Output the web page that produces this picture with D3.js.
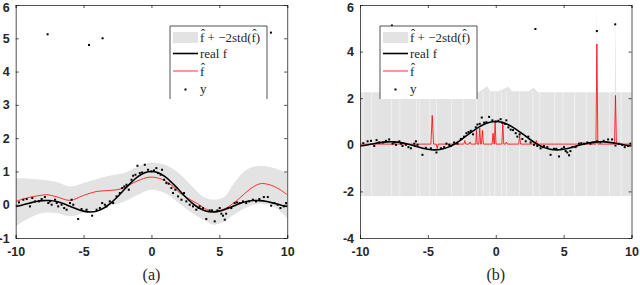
<!DOCTYPE html>
<html>
<head>
<meta charset="utf-8">
<script src="https://d3js.org/d3.v7.min.js"></script>
<style>
  body { margin: 0; background: #fff; }
  .tick text { font-family: "Liberation Sans", Arial, sans-serif; font-weight: bold; font-size: 12.5px; fill: #262626; }
  .leg text, .caption { font-family: "Liberation Serif", "Times New Roman", serif; fill: #262626; }
</style>
</head>
<body>
<div id="chart"></div>
<script>
// real f, sampled every 0.5
var realX = d3.range(-10, 10.01, 0.5);
var realY = [-0.054, -0.008, 0.046, 0.094, 0.124, 0.125, 0.094, 0.033, -0.047, -0.128, -0.192,
             -0.217, -0.189, -0.100, 0.047, 0.239, 0.455, 0.665, 0.841, 0.959, 1.0,
             0.959, 0.841, 0.665, 0.455, 0.239, 0.047, -0.100, -0.189, -0.217, -0.192,
             -0.128, -0.047, 0.033, 0.094, 0.125, 0.124, 0.094, 0.046, -0.008, -0.054];

// observations y
var obsX = [-9.76, -9.44, -9.19, -8.95, -8.78, -8.58, -8.29, -8.09, -7.85, -7.6, -7.48, -7.35, -7.1, -6.98,
            -6.87, -6.62, -6.43, -6.25, -6.0, -5.88, -5.76, -5.4, -5.15, -4.78, -4.37, -4.04, -3.8, -3.63,
            -3.43, -3.31, -3.07, -2.82, -2.57, -2.33, -2.16, -2.0, -1.84, -1.67, -1.47, -1.35, -1.18, -1.03,
            -0.86, -0.69, -0.49, -0.25, 0.0, 0.19, 0.36, 0.48, 0.68, 0.78, 0.93, 1.1, 1.27, 1.47, 1.59,
            1.76, 1.96, 2.21, 2.4, 2.57, 2.82, 3.06, 3.3, 3.47, 3.55, 3.8, 4.04, 4.29, 4.46, 4.66, 4.86,
            5.03, 5.15, 5.27, 5.4, 5.5, 5.64, 5.88, 6.13, 6.3, 6.5, 6.74, 6.98, 7.2, 7.47, 7.7, 7.95, 8.28,
            8.57, 8.82, 9.06, 9.3, 9.5, 9.75, 9.92,
            -7.65, -4.6, -3.6, 2.92, 7.45, 8.8];
var obsY = [0.07, 0.15, 0.17, -0.05, 0.2, 0.1, 0.1, 0.17, 0.23, 0.05, 0.1, 0.0, 0.15, 0.05,
            -0.05, 0.0, -0.1, -0.15, 0.05, 0.15, 0.0, -0.43, -0.13, -0.15, -0.33, -0.15, -0.1, 0.05,
            0.0, -0.05, 0.1, 0.05, 0.25, 0.35, 0.5, 0.55, 0.6, 0.45, 0.75, 0.87, 0.9, 1.17,
            0.95, 0.97, 1.2, 1.05, 1.0, 1.03, 1.1, 0.95, 0.9, 1.05, 0.75, 0.65, 0.63, 0.5, 0.35,
            0.45, 0.25, 0.15, 0.35, 0.1, 0.0, -0.05, -0.15, -0.1, -0.05, -0.1, -0.43, -0.17, -0.17, -0.5, -0.17,
            -0.1, -0.27, -0.33, -0.45, -0.27, -0.1, -0.1, 0.05, 0.07, 0.05, 0.1, 0.05, 0.1, 0.15, 0.1, 0.17, 0.23,
            0.23, -0.03, 0.05, 0.0, -0.1, -0.05, 0.05,
            5.12, 4.8, 5.0, 4.97, 4.88, 5.17];

// (a) estimate and its band
var aX = [-10, -9, -8, -7.7, -7, -6, -5, -4, -3, -2.3, -1.6, -1, -0.1, 0.8, 1.5, 2.1, 3.3, 4.5, 5.5, 6.5, 7.2, 8, 8.7, 9.4, 10];
var aFhat = [0.1, 0.22, 0.29, 0.3, 0.24, 0.13, 0.28, 0.4, 0.43, 0.47, 0.6, 0.72, 0.83, 0.76, 0.58, 0.35, 0.05, -0.2, -0.1, 0.2, 0.45, 0.63, 0.6, 0.47, 0.3];
var aBandX = [-10, -9, -8, -7, -6, -5, -4, -3, -2, -1, 0, 1, 2, 3, 3.8, 4.6, 5.4, 6, 7, 8, 9, 10];
var aUpper = [0.8, 0.78, 0.75, 0.68, 0.55, 0.65, 0.78, 0.88, 0.95, 1.15, 1.27, 1.2, 0.95, 0.55, 0.25, 0.15, 0.25, 0.6, 1.05, 1.17, 1.1, 0.95];
var aLower = [-0.65, -0.4, -0.25, -0.25, -0.35, -0.25, -0.12, -0.02, 0.1, 0.3, 0.45, 0.35, 0.05, -0.25, -0.45, -0.6, -0.5, -0.32, -0.08, 0.03, -0.05, -0.4];

// (b) estimate: flat with spikes
var bX = [-10, -4.78, -4.68, -4.58, -4.38, -4.31, -4.24, -2.35, -2.28, -2.21, -1.97, -1.9, -1.83,
          -1.47, -1.42, -1.37, -1.25, -1.18, -1.11, -1.05, -0.98, -0.91, -0.27, -0.2, -0.13, -0.1, -0.05, 0.02,
          0.45, 0.52, 0.59, 0.72, 0.79, 0.86, 1.69, 1.76, 1.83, 2.92, 2.99, 3.06,
          7.38, 7.45, 7.52, 8.75, 8.82, 8.89, 10];
var bFhat = [0.03, 0.03, 1.26, 0.03, 0.03, -0.17, 0.03, 0.03, 0.18, 0.03, 0.03, 0.12, 0.03,
             0.03, 0.64, 0.03, 0.03, 0.72, 0.03, 0.03, 0.62, 0.03, 0.03, 0.5, 0.03, 0.03, 0.97, 0.03,
             0.03, 0.97, 0.03, 0.03, 0.12, 0.03, 0.03, 0.4, 0.03, 0.03, 0.18, 0.03,
             0.03, 4.33, 0.03, 0.03, 2.12, 0.03, 0.03];
var bBandX = [-10, -1.3, -0.9, -0.65, -0.4, 0.2, 0.6, 0.9, 1.2, 2.4, 2.8, 3.1, 7.4, 7.45, 7.5, 8.77, 8.82, 8.87, 10];
var bUpper = [2.26, 2.26, 2.4, 2.52, 2.3, 2.3, 2.4, 2.5, 2.3, 2.3, 2.45, 2.26, 2.26, 6.0, 2.26, 2.26, 5.6, 2.26, 2.26];
var bLower = [-2.2, -2.2, -2.2, -2.2, -2.2, -2.2, -2.2, -2.2, -2.2, -2.2, -2.2, -2.2, -2.2, -2.2, -2.2, -2.2, -2.2, -2.2, -2.2];
var bGapX = [-9.76, -9.14, -7.67, -7.06, -5.83, -5.59, -4.85, -4.36, -3.26, -2.4, -1.42, -0.93, -0.44,
             -0.07, 0.42, 0.79, 1.76, 2.74, 3.24, 4.34, 4.95, 5.81, 6.67, 7.4, 8.38, 9.24];

var xTicks = [-10, -5, 0, 5, 10];

var svg = d3.select("#chart").append("svg")
    .attr("width", 640).attr("height", 285);

function zipXY(xs, ys) {
    return xs.map(function(x, i) { return [x, ys[i]]; });
}

function drawPanel(opt) {
    var left = opt.left, top = 5, w = 271.5, h = 233;
    var x = d3.scaleLinear().domain([-10, 10]).range([left, left + w]);
    var y = d3.scaleLinear().domain(opt.yDomain).range([top + h, top]);

    var g = svg.append("g");
    var clipId = "clip" + opt.name;
    g.append("clipPath").attr("id", clipId)
        .append("rect").attr("x", left).attr("y", top).attr("width", w).attr("height", h);
    var plot = g.append("g").attr("clip-path", "url(#" + clipId + ")");

    // confidence band
    var band = opt.bandX.map(function(v, i) { return {x: v, hi: opt.upper[i], lo: opt.lower[i]}; });
    plot.append("path")
        .datum(band)
        .attr("fill", "#e3e3e3")
        .attr("d", d3.area()
            .curve(opt.bandCurve)
            .x(function(d) { return x(d.x); })
            .y0(function(d) { return y(d.lo); })
            .y1(function(d) { return y(d.hi); }));

    if (opt.gaps) {
        plot.selectAll("line.gap").data(opt.gaps).enter().append("line")
            .attr("class", "gap")
            .attr("x1", function(d) { return x(d); })
            .attr("x2", function(d) { return x(d); })
            .attr("y1", y(2.3)).attr("y2", y(-2.2))
            .attr("stroke", "#fff").attr("stroke-opacity", 0.6).attr("stroke-width", 0.8);
    }

    // estimate
    plot.append("path")
        .datum(zipXY(opt.fX, opt.fY))
        .attr("fill", "none").attr("stroke", "#ff0000").attr("stroke-width", 0.8)
        .attr("d", d3.line().curve(opt.fCurve)
            .x(function(d) { return x(d[0]); }).y(function(d) { return y(d[1]); }));

    // real f
    plot.append("path")
        .datum(zipXY(realX, realY))
        .attr("fill", "none").attr("stroke", "#000").attr("stroke-width", 1.6)
        .attr("d", d3.line().curve(d3.curveCatmullRom)
            .x(function(d) { return x(d[0]); }).y(function(d) { return y(d[1]); }));

    // observations
    plot.selectAll("rect.pt").data(zipXY(obsX, obsY)).enter().append("rect")
        .attr("class", "pt")
        .attr("x", function(d) { return x(d[0]) - 1; })
        .attr("y", function(d) { return y(d[1]) - 1; })
        .attr("width", 2).attr("height", 2)
        .attr("fill", "#000");

    // axes (box with inward ticks)
    var axisCol = "#262626";
    var yTicks = d3.range(opt.yDomain[0], opt.yDomain[1] + 0.01, opt.yStep);
    g.append("g").attr("transform", "translate(0," + (top + h) + ")")
        .call(d3.axisBottom(x).tickValues(xTicks).tickSize(-3).tickPadding(9).tickFormat(d3.format("d")));
    g.append("g").attr("transform", "translate(0," + top + ")")
        .call(d3.axisTop(x).tickValues(xTicks).tickSize(-3).tickFormat(""));
    var yAx = g.append("g").attr("transform", "translate(" + left + ",0)")
        .call(d3.axisLeft(y).tickValues(yTicks).tickSize(-3).tickPadding(6).tickFormat(d3.format("d")));
    g.append("g").attr("transform", "translate(" + (left + w) + ",0)")
        .call(d3.axisRight(y).tickValues(yTicks).tickSize(-3).tickFormat(""));
    g.selectAll(".domain").attr("stroke", axisCol).attr("stroke-width", 0.8);
    g.selectAll(".tick line").attr("stroke", axisCol).attr("stroke-width", 0.8);
    g.selectAll(".tick text").text(function() { return this.textContent.replace("\u2212", "-"); });
    // keep the top label inside the figure, as the reference does
    yAx.selectAll(".tick text").filter(function(d) { return d === opt.yDomain[1]; }).attr("dy", "0.55em");

    // legend
    var lx = opt.legX, ly = 26, lw = 97, lh = 73;
    var leg = g.append("g").attr("class", "leg");
    leg.append("rect").attr("x", lx).attr("y", ly).attr("width", lw).attr("height", lh).attr("fill", "#fff");
    leg.append("path")
        .attr("d", "M" + lx + "," + (ly + lh) + "V" + ly + "H" + (lx + lw) + "V" + (ly + lh))
        .attr("fill", "none").attr("stroke", axisCol).attr("stroke-width", 0.8);
    leg.append("rect").attr("x", lx + 3).attr("y", ly + 6).attr("width", 25).attr("height", 11).attr("fill", "#e3e3e3");
    leg.append("line").attr("x1", lx + 3).attr("x2", lx + 28).attr("y1", ly + 27.5).attr("y2", ly + 27.5)
        .attr("stroke", "#000").attr("stroke-width", 1.6);
    leg.append("line").attr("x1", lx + 3).attr("x2", lx + 28).attr("y1", ly + 45).attr("y2", ly + 45)
        .attr("stroke", "#ff0000").attr("stroke-width", 0.8);
    leg.append("rect").attr("x", lx + 14.5).attr("y", ly + 62.5).attr("width", 2).attr("height", 2).attr("fill", "#000");
    var labels = ["f\u0302 + \u22122std(f\u0302)", "real f", "f\u0302", "y"];
    leg.selectAll("text").data(labels).enter().append("text")
        .attr("x", lx + 30)
        .attr("y", function(d, i) { return ly + [15.5, 31.5, 49.5, 67][i]; })
        .attr("font-size", "13px")
        .text(function(d) { return d; });

    svg.append("text").attr("class", "caption")
        .attr("x", left + w / 2).attr("y", 280)
        .attr("text-anchor", "middle").attr("font-size", "16px")
        .text(opt.caption);
}

drawPanel({name: "a", left: 15.7, yDomain: [-1, 6], yStep: 1,
    bandX: aBandX, upper: aUpper, lower: aLower, bandCurve: d3.curveCatmullRom,
    fX: aX, fY: aFhat, fCurve: d3.curveCatmullRom,
    legX: 170, caption: "(a)"});

drawPanel({name: "b", left: 360, yDomain: [-4, 6], yStep: 2,
    bandX: bBandX, upper: bUpper, lower: bLower, bandCurve: d3.curveLinear, gaps: bGapX,
    fX: bX, fY: bFhat, fCurve: d3.curveLinear,
    legX: 380, caption: "(b)"});
</script>
</body>
</html>
